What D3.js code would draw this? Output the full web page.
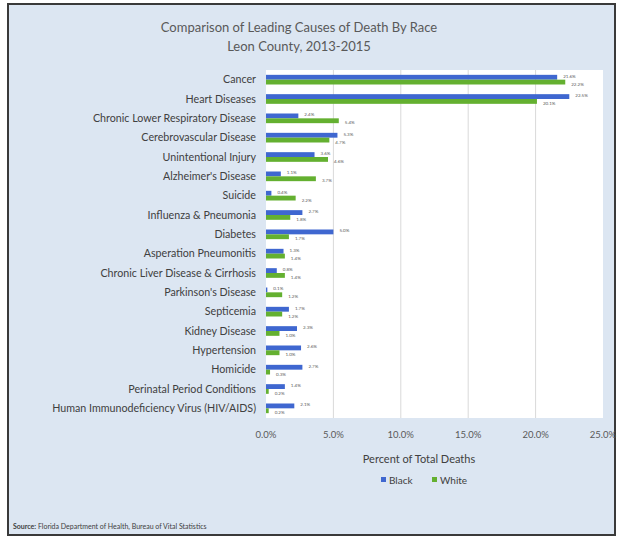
<!DOCTYPE html>
<html>
<head>
<meta charset="utf-8">
<script src="https://cdn.jsdelivr.net/npm/d3@7"></script>
<style>
  body { margin: 0; background: #fff; }
  svg { display: block; font-family: Lato, "Open Sans", sans-serif; }
</style>
</head>
<body>
<div id="chart"></div>
<script>
// Chart data
var causes = ["Cancer", "Heart Diseases", "Chronic Lower Respiratory Disease", "Cerebrovascular Disease",
    "Unintentional Injury", "Alzheimer's Disease", "Suicide", "Influenza & Pneumonia", "Diabetes",
    "Asperation Pneumonitis", "Chronic Liver Disease & Cirrhosis", "Parkinson's Disease", "Septicemia",
    "Kidney Disease", "Hypertension", "Homicide", "Perinatal Period Conditions",
    "Human Immunodeficiency Virus (HIV/AIDS)"];
var black = [21.6, 22.5, 2.4, 5.3, 3.6, 1.1, 0.4, 2.7, 5.0, 1.3, 0.8, 0.1, 1.7, 2.3, 2.6, 2.7, 1.4, 2.1];
var white = [22.2, 20.1, 5.4, 4.7, 4.6, 3.7, 2.2, 1.8, 1.7, 1.4, 1.4, 1.2, 1.2, 1.0, 1.0, 0.3, 0.2, 0.2];
var xTicks = [0, 5, 10, 15, 20, 25];
var seriesNames = ["Black", "White"];
var seriesColors = ["#3f67d0", "#64b030"];

var w = 618;
var h = 539;

var svg = d3.select("#chart")
    .append("svg")
    .attr("width", w)
    .attr("height", h);

// outer frame
svg.append("rect")
    .attr("x", 8).attr("y", 4)
    .attr("width", 607).attr("height", 531)
    .attr("fill", "#dce6f2")
    .attr("stroke", "#3a3a3a")
    .attr("stroke-width", 2);

// plot area
var plotL = 266, plotR = 603, plotT = 70, plotB = 418;

var x = d3.scaleLinear().domain([0, 25]).range([plotL, plotR]);
var y = d3.scaleBand().domain(causes).range([plotT, plotB]).paddingInner(0.5).paddingOuter(0.25);
var sub = d3.scaleBand().domain(seriesNames).range([0, y.bandwidth()]);

svg.append("rect")
    .attr("x", plotL).attr("y", plotT)
    .attr("width", plotR - plotL).attr("height", plotB - plotT)
    .attr("fill", "#ffffff");

// gridlines
svg.append("g")
    .selectAll("line")
    .data(xTicks.slice(1, -1))
    .enter()
    .append("line")
    .attr("x1", function (d) { return x(d); })
    .attr("x2", function (d) { return x(d); })
    .attr("y1", plotT).attr("y2", plotB)
    .attr("stroke", "#d9d9d9")
    .attr("stroke-width", 1);

// titles
svg.append("text")
    .attr("x", 299).attr("y", 32)
    .attr("text-anchor", "middle")
    .attr("fill", "#595959")
    .style("font-size", "13px")
    .text("Comparison of Leading Causes of Death By Race");
svg.append("text")
    .attr("x", 299).attr("y", 51)
    .attr("text-anchor", "middle")
    .attr("fill", "#595959")
    .style("font-size", "13px")
    .text("Leon County, 2013-2015");

// category labels
svg.append("g")
    .selectAll("text")
    .data(causes)
    .enter()
    .append("text")
    .attr("x", 256)
    .attr("y", function (d) { return y(d) + y.bandwidth() / 2; })
    .attr("dy", "0.35em")
    .attr("text-anchor", "end")
    .attr("fill", "#404040")
    .style("font-size", "10.7px")
    .text(function (d) { return d; });

// bars
var series = [black, white];
series.forEach(function (vals, s) {
    var g = svg.append("g");
    g.selectAll("rect")
        .data(vals)
        .enter()
        .append("rect")
        .attr("x", x(0))
        .attr("y", function (d, i) { return y(causes[i]) + sub(seriesNames[s]); })
        .attr("width", function (d) { return x(d) - x(0); })
        .attr("height", sub.bandwidth())
        .attr("fill", seriesColors[s]);
    g.selectAll("text")
        .data(vals)
        .enter()
        .append("text")
        .attr("x", function (d) { return x(d) + 6; })
        .attr("y", function (d, i) { return y(causes[i]) + sub(seriesNames[s]) + sub.bandwidth() / 2 + (s === 0 ? -1 : 2); })
        .attr("dy", "0.35em")
        .attr("fill", "#595959")
        .style("font-size", "4.5px")
        .text(function (d) { return d.toFixed(1) + "%"; });
});

// x axis labels
svg.append("g")
    .selectAll("text")
    .data(xTicks)
    .enter()
    .append("text")
    .attr("x", function (d) { return x(d); })
    .attr("y", 438)
    .attr("text-anchor", "middle")
    .attr("fill", "#595959")
    .style("font-size", "9.5px")
    .text(function (d) { return d.toFixed(1) + "%"; });

svg.append("text")
    .attr("x", 419).attr("y", 463)
    .attr("text-anchor", "middle")
    .attr("fill", "#404040")
    .style("font-size", "11px")
    .text("Percent of Total Deaths");

// legend
var legend = svg.append("g")
    .selectAll("g")
    .data(seriesNames)
    .enter()
    .append("g")
    .attr("transform", function (d, i) { return "translate(" + (381 + i * 51) + ",477)"; });

legend.append("rect")
    .attr("width", 5)
    .attr("height", 5)
    .style("fill", function (d, i) { return seriesColors[i]; });

legend.append("text")
    .attr("x", 8)
    .attr("y", 3)
    .attr("dy", ".35em")
    .attr("fill", "#404040")
    .style("font-size", "10px")
    .text(function (d) { return d; });

// source note
var src = svg.append("text")
    .attr("x", 13).attr("y", 529)
    .attr("fill", "#404040")
    .style("font-size", "7px");
src.append("tspan").style("font-weight", "bold").text("Source: ");
src.append("tspan").text("Florida Department of Health, Bureau of Vital Statistics");
</script>
</body>
</html>
